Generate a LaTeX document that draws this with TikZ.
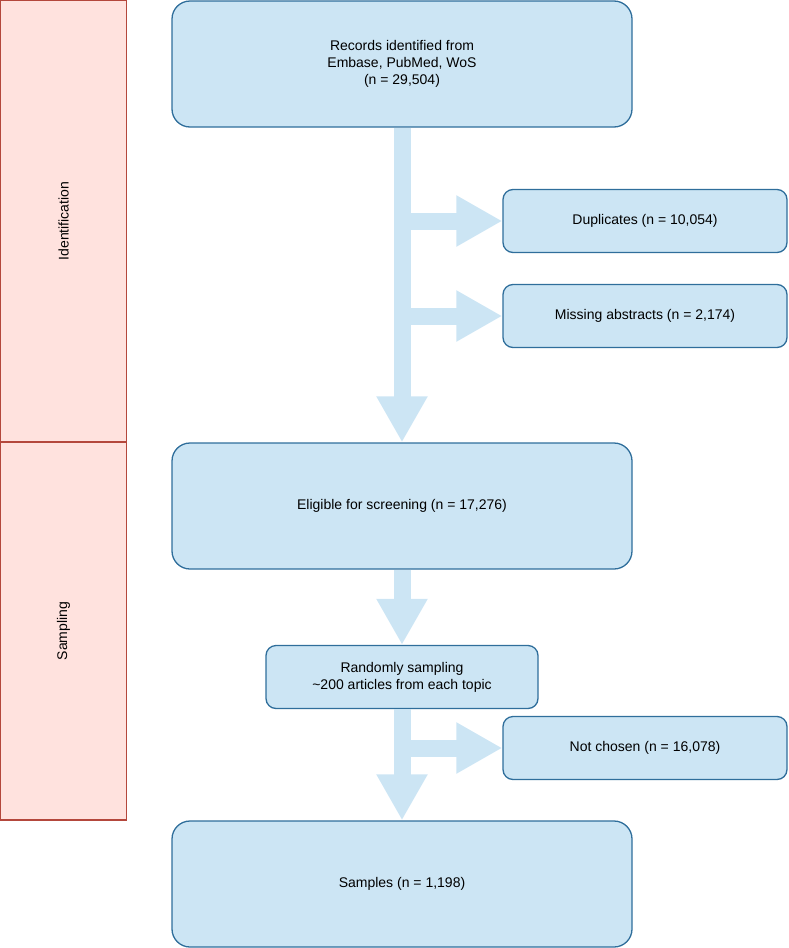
\documentclass[tikz,border=0pt]{standalone}
\usepackage{fontspec}
\setmainfont{Liberation Sans}
\usetikzlibrary{positioning, arrows.meta}
\definecolor{boxfill}{HTML}{CCE5F4}
\definecolor{boxline}{HTML}{2F6E9B}
\definecolor{stagefill}{HTML}{FFE2DE}
\definecolor{stageline}{HTML}{B4473C}

\begin{document}
\begin{tikzpicture}[x=1pt, y=-1pt, font=\fontsize{14}{17}\selectfont,
    box/.style={draw=boxline, line width=1.3pt, fill=boxfill, rounded corners=18pt, align=center, inner sep=0pt},
    smallbox/.style={box, rounded corners=10pt},
    stage/.style={draw=stageline, line width=1.3pt, fill=stagefill, inner sep=0pt},
    flow/.style={draw=boxfill, line width=17pt, -{Triangle[width=48pt, length=46pt]}, shorten >=0pt}]
    \useasboundingbox (0,0) rectangle (788,948);

    % Stages on the left
    \node[stage, minimum width=126pt, minimum height=441pt] (ident) at (63.5,221) {};
    \node[rotate=90] (identtxt) at (ident.center) {Identification};
    \node[stage, minimum width=126pt, minimum height=378pt] (samp) at (63.5,631) {};
    \node[rotate=90] (samptxt) at (samp.center) {Sampling};

    % Main boxes
    \node[box, minimum width=460pt, minimum height=126pt] (rec) at (402,64)
        {Records identified from\\Embase, PubMed, WoS\\(n = 29,504)};
    \node[smallbox, minimum width=284pt, minimum height=63pt] (dup) at (645,221) {Duplicates (n = 10,054)};
    \node[smallbox, minimum width=284pt, minimum height=63pt] (miss) at (645,316) {Missing abstracts (n = 2,174)};
    \node[box, minimum width=460pt, minimum height=126pt] (elig) at (402,506) {Eligible for screening (n = 17,276)};
    \node[smallbox, minimum width=272pt, minimum height=63pt] (rand) at (402,677)
        {Randomly sampling\\\textasciitilde200 articles from each topic};
    \node[smallbox, minimum width=284pt, minimum height=63pt] (notch) at (645,748) {Not chosen (n = 16,078)};
    \node[box, minimum width=460pt, minimum height=126pt] (out) at (402,884) {Samples (n = 1,198)};

    % Flow arrows
    \begin{scope}[on background layer/.style={}]
        \draw[flow] (rec.south |- dup.west) -- (dup.west);
        \draw[flow] (rec.south |- miss.west) -- (miss.west);
        \draw[flow] (rec.south) -- (elig.north);
        \draw[flow] (elig.south) -- (rand.north);
        \draw[flow] (rand.south |- notch.west) -- (notch.west);
        \draw[flow] (rand.south) -- (out.north);
    \end{scope}
\end{tikzpicture}
\end{document}
